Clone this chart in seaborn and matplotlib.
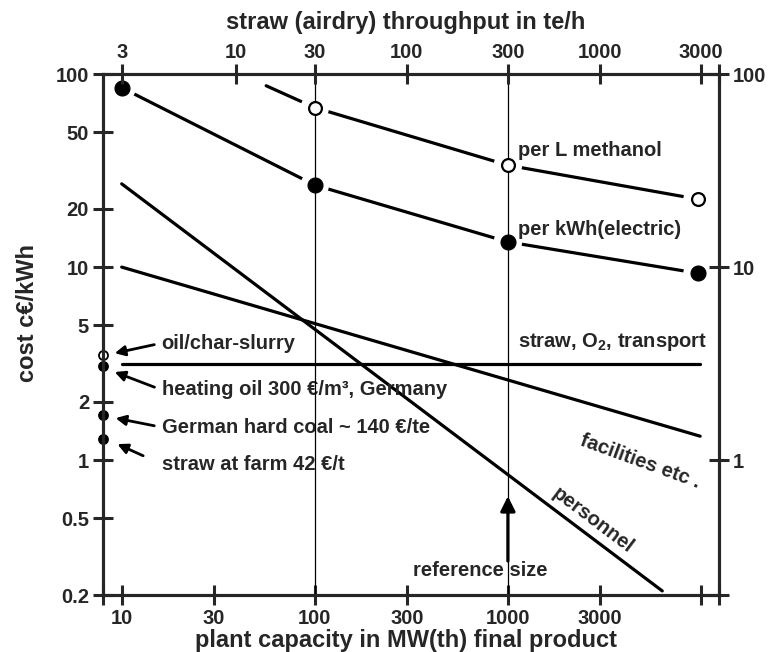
import pandas as pd
import numpy as np
from matplotlib import pyplot as plt
import seaborn as sns

# plant capacity (MW th) and cost values
elec_x = [10, 100, 1000, 9600]
elec_y = [85, 26.6, 13.5, 9.3]
meoh_line_x = [56, 100, 1000, 9600]
meoh_line_y = [87, 67, 33.7, 22.5]
meoh_x = [100, 1000, 9600]
meoh_y = [67, 33.7, 22.5]
personnel_x = [10, 6300]
personnel_y = [27, 0.21]
facilities_x = [10, 9900]
facilities_y = [10, 1.33]
straw_x = [10, 9900]
straw_y = [3.14, 3.14]
# reference fuel prices shown on the left axis
ref_names = ['oil/char-slurry', 'heating oil 300 €/m³, Germany',
             'German hard coal ~ 140 €/te', 'straw at farm 42 €/t']
ref_y = [3.5, 3.07, 1.71, 1.28]
ref_filled = [False, True, True, True]

bottom_ticks = [10, 30, 100, 300, 1000, 3000]
top_pos = [10, 39, 100, 300, 1000, 3000, 10000]
top_labels = ['3', '10', '30', '100', '300', '1000', '3000']
left_ticks = [0.2, 0.5, 1, 2, 5, 10, 20, 50, 100]
right_ticks = [0.2, 1, 10, 100]

XMIN, XMAX = 8, 12400
YMIN, YMAX = 0.2, 100

sns.set_style('ticks')
plt.rcParams['font.family'] = ['Liberation Sans', 'DejaVu Sans']
plt.rcParams['font.weight'] = 'bold'
plt.rcParams['axes.linewidth'] = 2.2
plt.rcParams['mathtext.default'] = 'regular'

fig = plt.figure(figsize=(7.72, 6.52), dpi=100)
ax = fig.add_axes([0.1334, 0.0874, 0.798, 0.799])
ax.set_xscale('log')
ax.set_yscale('log')

lw = 2.3
for xs, ys in [(elec_x, elec_y), (meoh_line_x, meoh_line_y), (personnel_x, personnel_y),
               (facilities_x, facilities_y), (straw_x, straw_y)]:
    sns.lineplot(x=xs, y=ys, ax=ax, color='black', lw=lw, zorder=2)

# white halos give the gaps where lines meet the markers
sns.scatterplot(x=elec_x + meoh_x, y=elec_y + meoh_y, ax=ax, s=420, color='white',
                edgecolor='none', zorder=3)

ax.axvline(100, color='black', lw=0.9, zorder=4)
ax.axvline(1000, color='black', lw=0.9, zorder=4)

sns.scatterplot(x=elec_x, y=elec_y, ax=ax, s=115, color='black', edgecolor='black', zorder=5)
sns.scatterplot(x=meoh_x, y=meoh_y, ax=ax, s=85, color='white', edgecolor='black',
                linewidth=1.6, zorder=5)

for yv, filled in zip(ref_y, ref_filled):
    ax.plot([XMIN], [yv], 'o', ms=6.5, mfc='black' if filled else 'white', mec='black',
            mew=1.3, clip_on=False, zorder=6)

fs = 14.5
arrow = dict(arrowstyle='-|>', color='black', lw=2, mutation_scale=15,
             shrinkA=3, shrinkB=0, relpos=(0, 0.5))
ax.annotate(ref_names[0], xy=(9.2, 3.58), xytext=(16.1, 4.04), ha='left', va='center',
            fontsize=fs, fontweight='bold', arrowprops=arrow)
ax.annotate(ref_names[1], xy=(9.2, 2.86), xytext=(16.1, 2.31), ha='left', va='center',
            fontsize=fs, fontweight='bold', arrowprops=arrow)
ax.annotate(ref_names[2], xy=(9.3, 1.65), xytext=(16.1, 1.48), ha='left', va='center',
            fontsize=fs, fontweight='bold', arrowprops=arrow)
ax.annotate(ref_names[3], xy=(9.5, 1.21), xytext=(16.1, 0.953), ha='left', va='center',
            fontsize=fs, fontweight='bold', arrowprops=dict(arrow, shrinkA=12))

ax.text(1127, 40.4, 'per L methanol', ha='left', va='center', fontsize=fs, fontweight='bold')
ax.text(1127, 15.7, 'per kWh(electric)', ha='left', va='center', fontsize=fs, fontweight='bold')
ax.text(1127, 4.08, 'straw, O$_2$, transport', ha='left', va='center', fontsize=fs,
        fontweight='bold')
ax.text(4830, 0.98, 'facilities etc .', ha='center', va='center', fontsize=fs,
        fontweight='bold', rotation=-20, rotation_mode='anchor')
ax.text(2755, 0.489, 'personnel', ha='center', va='center', fontsize=fs,
        fontweight='bold', rotation=-37, rotation_mode='anchor')
ax.text(716, 0.269, 'reference size', ha='center', va='center', fontsize=fs, fontweight='bold')
ax.annotate('', xy=(1000, 0.65), xytext=(1000, 0.30),
            arrowprops=dict(arrowstyle='-|>', color='black', lw=2.3, mutation_scale=22,
                            shrinkA=0, shrinkB=0), zorder=6)

ax.set_xlim(XMIN, XMAX)
ax.set_ylim(YMIN, YMAX)
ax.minorticks_off()
ax.set_xticks([XMIN] + bottom_ticks + [10000, XMAX])
ax.set_xticklabels([''] + [str(t) for t in bottom_ticks] + ['', ''])
ax.set_yticks(left_ticks)
ax.set_yticklabels(['0.2', '0.5', '1', '2', '5', '10', '20', '50', '100'])
ax.tick_params(direction='inout', length=14, width=2.2, labelsize=fs, pad=3)
for lab in ax.get_xticklabels() + ax.get_yticklabels():
    lab.set_fontweight('bold')

top = ax.twiny()
top.set_xscale('log')
top.set_xlim(XMIN, XMAX)
top.minorticks_off()
top.set_xticks(top_pos + [XMAX])
top.set_xticklabels(top_labels + [''])
top.tick_params(direction='inout', length=14, width=2.2, labelsize=fs, pad=2)

right = ax.twinx()
right.set_yscale('log')
right.set_ylim(YMIN, YMAX)
right.minorticks_off()
right.set_yticks(right_ticks)
right.set_yticklabels(['', '1', '10', '100'])
right.tick_params(direction='inout', length=14, width=2.2, labelsize=fs, pad=3)
for a in (top, right):
    for lab in a.get_xticklabels() + a.get_yticklabels():
        lab.set_fontweight('bold')

fig.text(406 / 772, 1 - 640 / 652, 'plant capacity in MW(th) final product',
         ha='center', va='center', fontsize=17, fontweight='bold')
fig.text(406 / 772, 1 - 22 / 652, 'straw (airdry) throughput in te/h',
         ha='center', va='center', fontsize=17, fontweight='bold')
fig.text(27 / 772, 1 - 313 / 652, 'cost c€/kWh', ha='center', va='center',
         rotation=90, fontsize=17, fontweight='bold')

fig.savefig('out.png', dpi=100)
